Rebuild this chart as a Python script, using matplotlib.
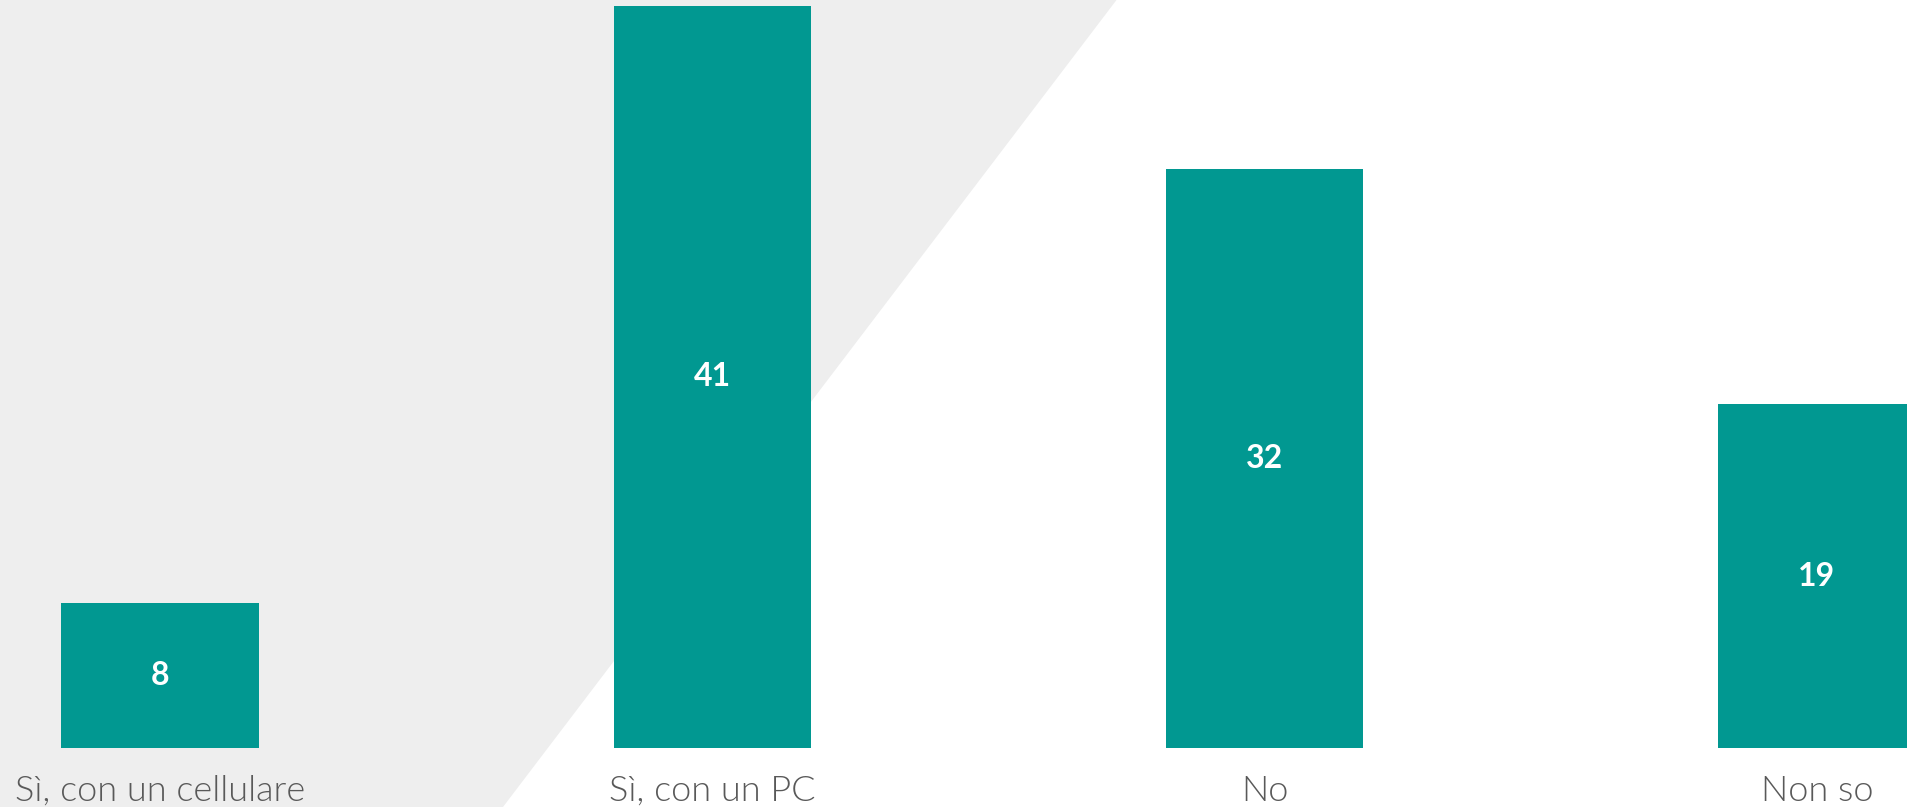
import matplotlib
matplotlib.use("Agg")
import matplotlib.pyplot as plt
from matplotlib.patches import Polygon

categories = ["Sì, con un cellulare", "Sì, con un PC", "No", "Non so"]
values = [8, 41, 32, 19]

bar_color = "#019891"
bg_gray = "#EEEEEE"
text_gray = "#595959"

W, H = 1908, 807
fig = plt.figure(figsize=(W / 100, H / 100), dpi=100, facecolor="white")

# grey slanted panel behind the left part of the chart
bg = fig.add_axes([0, 0, 1, 1], zorder=0)
bg.set_xlim(0, 1)
bg.set_ylim(0, 1)
bg.axis("off")
bg.add_patch(Polygon([(0, 0), (503 / W, 0), (1116.5 / W, 1), (0, 1)],
                     closed=True, facecolor=bg_gray, edgecolor="none"))

ax = fig.add_axes([0, 59 / H, 1, 742 / H], zorder=1)
ax.set_facecolor("none")

x = list(range(len(categories)))
bars = ax.bar(x, values, width=0.357, color=bar_color)

ax.set_ylim(0, 41)
ax.set_xlim(-160 / 552.3, (W - 160) / 552.3)

for b, v in zip(bars, values):
    ax.text(b.get_x() + b.get_width() / 2, v / 2, str(v),
            ha="center", va="center", color="white",
            fontsize=23, fontweight="bold", family=["Lato", "DejaVu Sans"])

for xi, lab in zip(x, categories):
    ax.text(xi, -53 / 742, lab, transform=ax.get_xaxis_transform(),
            ha="center", va="baseline", color=text_gray,
            fontsize=26, fontweight=300, family=["Lato", "DejaVu Sans"],
            clip_on=False)

ax.set_xticks([])
ax.set_yticks([])
for s in ax.spines.values():
    s.set_visible(False)

fig.savefig("out.png", dpi=100, facecolor="white")
